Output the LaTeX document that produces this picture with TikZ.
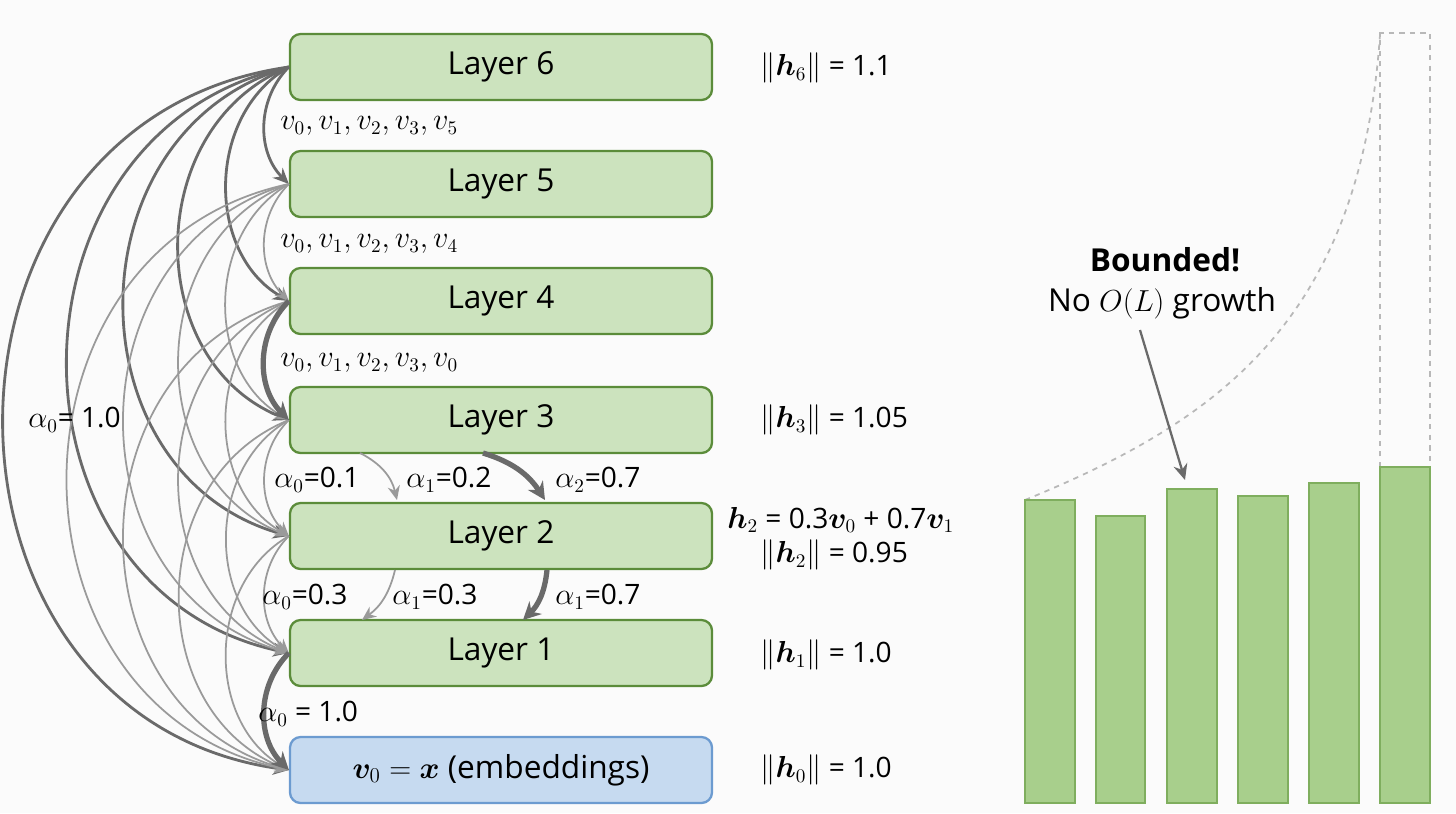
\documentclass[tikz,border=0pt]{standalone}
\usepackage{fontspec}
\setmainfont{Open Sans}
\usepackage{amsmath,bm}
\usetikzlibrary{arrows.meta}
\definecolor{gfill}{HTML}{CCE3BE}
\definecolor{gline}{HTML}{5B8C3A}
\definecolor{bfill}{HTML}{C6DAF0}
\definecolor{bline}{HTML}{6C9BD0}
\definecolor{barf}{HTML}{A8CF8C}
\definecolor{barl}{HTML}{7FAE5E}
\definecolor{dk}{HTML}{6A6A6A}
\definecolor{lt}{HTML}{9A9A9A}
\tikzset{
 layer/.style={draw=gline,fill=gfill,line width=1.3pt,rounded corners=6pt,minimum width=422*0.2mm,minimum height=66*0.2mm,font=\fontsize{18}{22}\selectfont},
 dkarr/.style={draw=dk,line width=1.6pt,-{Stealth[length=9pt,width=8pt]}},
 ltarr/.style={draw=lt,line width=1pt,-{Stealth[length=8pt,width=7pt]}},
 thk/.style={draw=dk,line width=3pt,-{Stealth[length=10pt,width=10pt]}},
 lbl/.style={font=\fontsize{16}{19}\selectfont,anchor=west,inner sep=0pt},
 bar/.style={draw=barl,fill=barf,line width=1pt}
}
\begin{document}
\begin{tikzpicture}[x=0.2mm,y=-0.2mm]
\useasboundingbox[fill=white!97!gray] (0,0) rectangle (1456,813);
\node[layer] (L6) at (501,67) {Layer 6};
\node[layer] (L5) at (501,184) {Layer 5};
\node[layer] (L4) at (501,301) {Layer 4};
\node[layer] (L3) at (501,420) {Layer 3};
\node[layer] (L2) at (501,536) {Layer 2};
\node[layer] (L1) at (501,653) {Layer 1};
\node[layer,draw=bline,fill=bfill] (L0) at (501,770) {$\bm{v}_0=\bm{x}$ (embeddings)};
% skip connections from layer 6
\foreach \t/\b/\l in {L5/45/1,L4/60/1.05,L3/68/1.15,L2/74/1.25,L1/78/1.32,L0/82/1.4}{
  \draw[dkarr] (L6.west) to[bend right=\b,looseness=\l] (\t.west);}
\foreach \s/\t/\b/\l in {L5/L4/45/1,L5/L3/60/1.05,L5/L2/68/1.15,L5/L1/74/1.25,L5/L0/78/1.32,
  L4/L2/60/1.05,L4/L1/68/1.15,L4/L0/74/1.25,L3/L2/45/1,L3/L1/60/1.05,L3/L0/68/1.15,L2/L1/45/1,L2/L0/60/1.05}{
  \draw[ltarr] (\s.west) to[bend right=\b,looseness=\l] (\t.west);}
\draw[thk] (L4.west) to[bend right=45] (L3.west);
\draw[thk] (L1.west) to[bend right=45] (L0.west);
% inter-layer arrows
\coordinate (a1) at (360,453); \coordinate (a2) at (397,500);
\draw[ltarr] (a1) to[bend left=25] (a2);
\coordinate (b1) at (483,453); \coordinate (b2) at (545,500);
\draw[thk] (b1) to[bend left=20] (b2);
\coordinate (c1) at (395,570); \coordinate (c2) at (362,620);
\draw[ltarr] (c1) to[bend left=20] (c2);
\coordinate (d1) at (547,570); \coordinate (d2) at (523,620);
\draw[thk] (d1) to[bend left=20] (d2);
% labels
\node[lbl] (t1) at (280,126) {$v_0, v_1, v_2, v_3, v_5$};
\node[lbl] (t2) at (280,244) {$v_0, v_1, v_2, v_3, v_4$};
\node[lbl] (t3) at (280,363) {$v_0, v_1, v_2, v_3, v_0$};
\node[lbl] (t4) at (28,420) {$\alpha_0$= 1.0};
\node[lbl] (t5) at (274,480) {$\alpha_0$=0.1};
\node[lbl] (t6) at (406,480) {$\alpha_1$=0.2};
\node[lbl] (t7) at (555,480) {$\alpha_2$=0.7};
\node[lbl] (t8) at (262,597) {$\alpha_0$=0.3};
\node[lbl] (t9) at (392,597) {$\alpha_1$=0.3};
\node[lbl] (t10) at (555,597) {$\alpha_1$=0.7};
\node[lbl] (t11) at (258,714) {$\alpha_0$ = 1.0};
\node[lbl] (r6) at (760,68) {$\lVert\bm{h}_6\rVert$ = 1.1};
\node[lbl] (r3) at (760,420) {$\lVert\bm{h}_3\rVert$ = 1.05};
\node[lbl] (r2a) at (727,520) {$\bm{h}_2$ = 0.3$\bm{v}_0$ + 0.7$\bm{v}_1$};
\node[lbl] (r2b) at (760,555) {$\lVert\bm{h}_2\rVert$ = 0.95};
\node[lbl] (r1) at (760,655) {$\lVert\bm{h}_1\rVert$ = 1.0};
\node[lbl] (r0) at (760,770) {$\lVert\bm{h}_0\rVert$ = 1.0};
% bars
\draw[dashed,draw=lt!70,line width=1pt] (1380,467) -- (1380,33) -- (1430,33) -- (1430,467);
\draw[dashed,draw=lt!70,line width=1pt] (1025,500) .. controls (1220,420) and (1360,320) .. (1380,35);
\draw[bar] (1025,803) rectangle (1075,500);
\draw[bar] (1096,803) rectangle (1145,516);
\draw[bar] (1167,803) rectangle (1217,489);
\draw[bar] (1238,803) rectangle (1288,496);
\draw[bar] (1309,803) rectangle (1359,483);
\draw[bar] (1380,803) rectangle (1430,467);
\node[font=\fontsize{18}{22}\selectfont\bfseries] (bd) at (1165,260) {Bounded!};
\node[font=\fontsize{18}{22}\selectfont] (ng) at (1162,303) {No $O(L)$ growth};
\coordinate (tip) at (1185,480);
\draw[dkarr,line width=1.3pt] (1140,330) -- (tip);
\end{tikzpicture}
\end{document}
